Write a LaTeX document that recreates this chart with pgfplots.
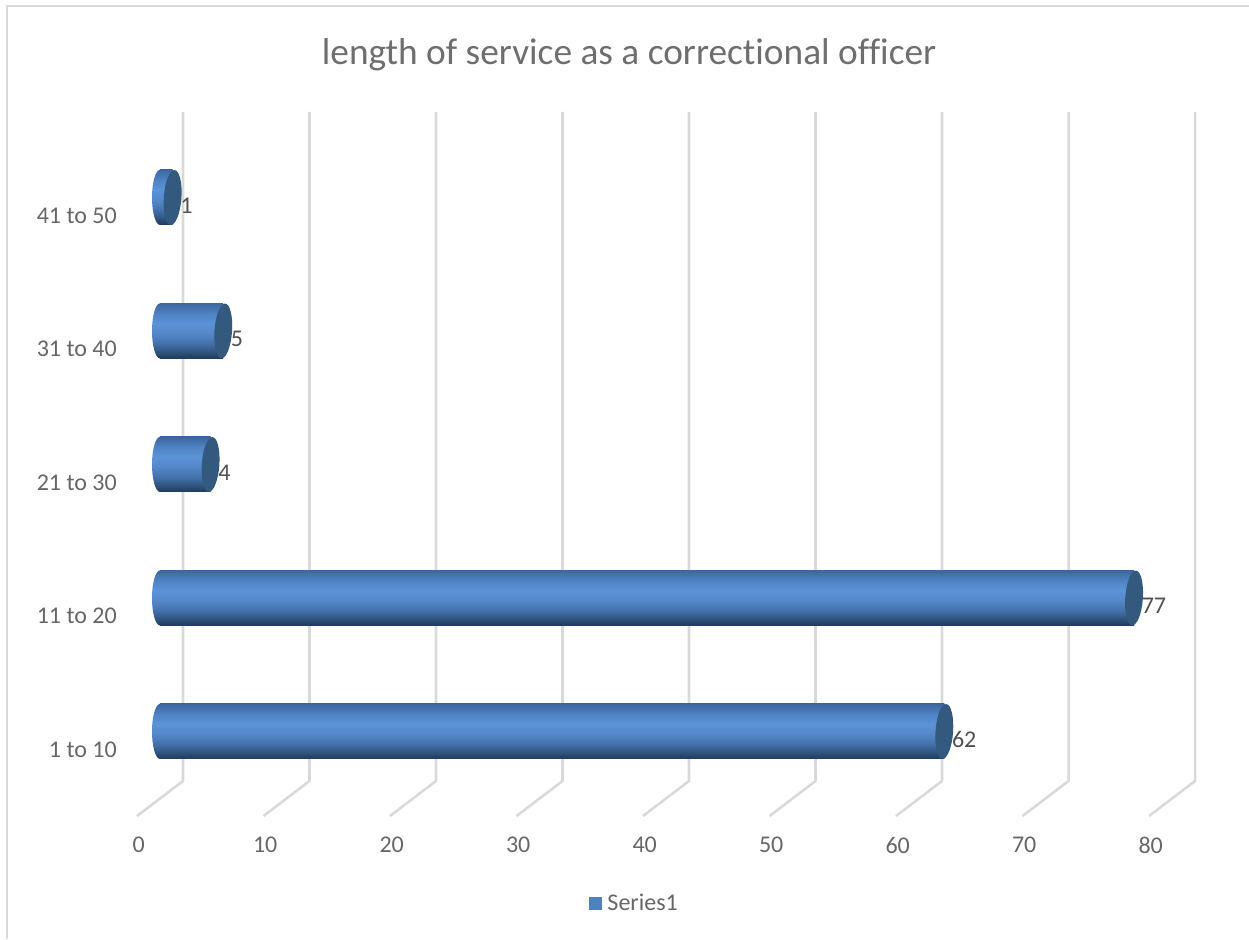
\documentclass[border=0pt]{standalone}
\usepackage{pgfplots}
\pgfplotsset{compat=1.18}
\usepackage{pgfplotstable}
\usepackage{fontspec}
\setmainfont[Ligatures=NoCommon]{Carlito}

\definecolor{gridgray}{HTML}{D9D9D9}
\definecolor{labelgray}{HTML}{666666}
\definecolor{valuegray}{HTML}{505050}
\definecolor{titlegray}{HTML}{6E6E6E}
\definecolor{capblue}{HTML}{34597F}
\definecolor{legendblue}{HTML}{4F81BD}
\definecolor{tubeA}{HTML}{1F3A5F}
\definecolor{tubeB}{HTML}{2C5078}
\definecolor{tubeC}{HTML}{426FA8}
\definecolor{tubeD}{HTML}{5588CA}
\definecolor{tubeE}{HTML}{5B93D8}
\definecolor{tubeF}{HTML}{4F82C2}
\definecolor{tubeG}{HTML}{4270AB}
\definecolor{tubeH}{HTML}{3C66A0}

% Cylinder body: dark rims, bright band just above the middle
\pgfdeclareverticalshading{tube}{100bp}{
  color(0bp)=(tubeA);
  color(25bp)=(tubeA);
  color(30bp)=(tubeB);
  color(38bp)=(tubeC);
  color(48bp)=(tubeD);
  color(57bp)=(tubeE);
  color(66bp)=(tubeF);
  color(72bp)=(tubeG);
  color(75bp)=(tubeH);
  color(100bp)=(tubeH)}

% Caps of the cylinders; semi-axes in pt (1 px = 0.75 pt)
\pgfdeclareplotmark{tubeback}{%
  \pgfpathellipse{\pgfpointorigin}{\pgfqpoint{6pt}{0pt}}{\pgfqpoint{0pt}{20.625pt}}%
  \pgfshadepath{tube}{0}%
  \pgfusepath{discard}}
\pgfdeclareplotmark{tubeend}{%
  \pgftransformrotate{-4}%
  \pgfpathellipse{\pgfpointorigin}{\pgfqpoint{6.6pt}{0pt}}{\pgfqpoint{0pt}{20.6pt}}%
  \pgfusepathqfill}

\pgfplotstableread{
pos value start
0   62    0
1   77    0
2   4     0
3   5     0
4   1     0
}\servicetable

\begin{document}
\begin{tikzpicture}
\path[use as bounding box] (-102.75pt,-92.25pt) rectangle (834pt,612pt);
% chart frame: left and top edges only
\draw[gridgray, line width=1.9pt] (-97.5pt,-92.25pt) -- (-97.5pt,607.5pt) -- (834pt,607.5pt);
\begin{axis}[
  scale only axis,
  width=795pt, height=528pt,
  clip=false,
  xmin=-1.818, xmax=81.976,
  ymin=-0.633, ymax=4.640,
  axis line style={draw=none},
  major tick length=0pt,
  tick style={draw=none},
  xtick={0,10,...,80},
  ytick={0,1,2,3,4},
  yticklabels={1 to 10,11 to 20,21 to 30,31 to 40,41 to 50},
  /pgf/number format/assume math mode=true,
  ticklabel style={font=\fontsize{18}{20}\selectfont, text=labelgray},
  x tick label style={anchor=center, xshift=-16pt, yshift=-21.75pt},
  y tick label style={anchor=east, inner sep=0pt, xshift=-15pt, yshift=-13.5pt},
  unbounded coords=jump,
  title={length of service as a correctional officer},
  title style={at={(0.4642,1.0696)}, anchor=center, inner sep=0pt,
    font=\fontsize{28}{32}\selectfont, text=titlegray},
  legend style={at={(0.4698,-0.1236)}, anchor=center, draw=none, fill=none,
    font=\fontsize{18}{20}\selectfont, text=labelgray, inner sep=0pt,
    /tikz/every odd column/.append style={column sep=2.5pt}},
]
% key of the only series
\addlegendimage{only marks, mark=square*, mark size=4.5pt, color=legendblue}
\addlegendentry{Series1}

% receding grid: back wall and floor lines
\addplot[forget plot, gridgray, line width=1.9pt, line join=round] coordinates {
  (1.818,4.640) (1.818,-0.371) (-1.818,-0.633) (nan,nan)
  (11.818,4.640) (11.818,-0.371) (8.182,-0.633) (nan,nan)
  (21.818,4.640) (21.818,-0.371) (18.182,-0.633) (nan,nan)
  (31.818,4.640) (31.818,-0.371) (28.182,-0.633) (nan,nan)
  (41.818,4.640) (41.818,-0.371) (38.182,-0.633) (nan,nan)
  (51.818,4.640) (51.818,-0.371) (48.182,-0.633) (nan,nan)
  (61.818,4.640) (61.818,-0.371) (58.182,-0.633) (nan,nan)
  (71.818,4.640) (71.818,-0.371) (68.182,-0.633) (nan,nan)
  (81.818,4.640) (81.818,-0.371) (78.182,-0.633)
};

% rounded back of each cylinder
\addplot[forget plot, only marks, mark=tubeback] table[x=start, y=pos] {\servicetable};
% cylinder bodies, one plot per bar so that each carries its own shading
\pgfplotsinvokeforeach{0,1,2,3,4}{
  \addplot[forget plot, xbar, bar shift=0pt, bar width=41.25pt, draw=none, shading=tube,
    restrict y to domain=#1:#1] table[x=value, y=pos] {\servicetable};
}
% end faces
\addplot[forget plot, only marks, mark=tubeend, color=capblue] table[x=value, y=pos] {\servicetable};
% value labels
\addplot[forget plot, only marks, mark=none, point meta=x,
  nodes near coords,
  nodes near coords style={anchor=west, inner sep=0pt, xshift=5.6pt, yshift=-6pt,
    font=\fontsize{18}{20}\selectfont, text=valuegray,
    /pgf/number format/assume math mode=true}]
  table[x=value, y=pos] {\servicetable};
\end{axis}
\end{tikzpicture}
\end{document}
